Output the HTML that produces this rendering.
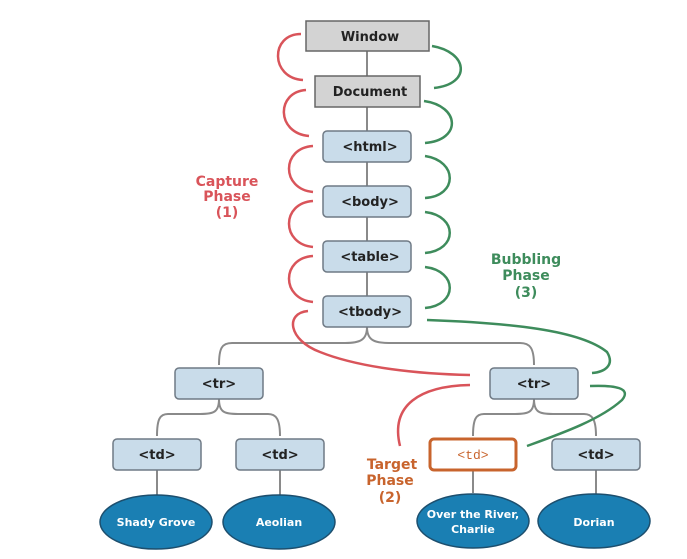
<!DOCTYPE html>
<html><head><meta charset="utf-8"><style>
html,body{margin:0;padding:0;background:#fff;}
svg{display:block;}
text{font-family:"DejaVu Sans","Liberation Sans",sans-serif;font-weight:bold;}
</style></head><body>
<svg width="687" height="559" viewBox="0 0 687 559" xmlns="http://www.w3.org/2000/svg">
<g stroke="#8a8a8a" stroke-width="2" fill="none">
<line x1="367" y1="51" x2="367" y2="76"/>
<line x1="367" y1="107" x2="367" y2="131"/>
<line x1="367" y1="162" x2="367" y2="186"/>
<line x1="367" y1="217" x2="367" y2="241"/>
<line x1="367" y1="272" x2="367" y2="296"/>
<path d="M367 327 C367 340 360 343 345 343 L232 343 C222 343 219 348 219 365"/>
<path d="M367 327 C367 340 374 343 389 343 L520 343 C530 343 534 348 534 365"/>
<path d="M219 399 C219 412 214 414 200 414 L168 414 C160 414 157 419 157 436"/>
<path d="M219 399 C219 412 224 414 238 414 L268 414 C276 414 280 419 280 436"/>
<path d="M534 399 C534 412 529 414 515 414 L484 414 C476 414 473 419 473 436"/>
<path d="M534 399 C534 412 539 414 553 414 L584 414 C592 414 596 419 596 436"/>
<line x1="157" y1="470" x2="157" y2="495"/>
<line x1="280" y1="470" x2="280" y2="495"/>
<line x1="473" y1="470" x2="473" y2="493"/>
<line x1="596" y1="470" x2="596" y2="495"/>
</g>
<g stroke="#d9545a" stroke-width="2.5" fill="none">
<path d="M301 34 C270 34 270 78 303 80"/>
<path d="M306 90 C276 92 276 133 309 136"/>
<path d="M313 146 C281 148 281 189 313 192"/>
<path d="M313 201 C281 203 281 244 313 247"/>
<path d="M313 256 C281 258 281 299 313 302"/>
<path d="M308 311 C285 313 288 340 320 352 C360 368 420 374 470 375"/>
<path d="M470 385 C420 386 390 405 400 446"/>
</g>
<g stroke="#3e8c5c" stroke-width="2.5" fill="none">
<path d="M432 46 C468 52 472 84 434 88"/>
<path d="M424 101 C460 106 462 140 425 143"/>
<path d="M425 156 C458 161 458 196 425 198"/>
<path d="M425 212 C458 216 458 250 425 253"/>
<path d="M425 267 C458 271 458 305 425 308"/>
<path d="M427 320 C510 323 580 330 607 352 C615 365 605 372 592 373"/>
<path d="M590 386 C615 385 632 388 622 400 C600 420 560 434 527 446"/>
</g>
<g stroke="#666" stroke-width="1.5">
<rect x="306" y="21" width="123" height="30" fill="#d3d3d3"/>
<rect x="315" y="76" width="105" height="31" fill="#d3d3d3"/>
</g>
<g stroke="#6f7a85" stroke-width="1.5" fill="#c9dcea">
<rect x="323" y="131" width="88" height="31" rx="4"/>
<rect x="323" y="186" width="88" height="31" rx="4"/>
<rect x="323" y="241" width="88" height="31" rx="4"/>
<rect x="323" y="296" width="88" height="31" rx="4"/>
<rect x="175" y="368" width="88" height="31" rx="4"/>
<rect x="490" y="368" width="88" height="31" rx="4"/>
<rect x="113" y="439" width="88" height="31" rx="4"/>
<rect x="236" y="439" width="88" height="31" rx="4"/>
<rect x="552" y="439" width="88" height="31" rx="4"/>
</g>
<rect x="430" y="439" width="86" height="31" rx="4" fill="#fff" stroke="#c8642d" stroke-width="3"/>
<g fill="#1a7fb3" stroke="#1d4f6e" stroke-width="1.5">
<ellipse cx="156" cy="522" rx="56" ry="27"/>
<ellipse cx="279" cy="522" rx="56" ry="27"/>
<ellipse cx="473" cy="521" rx="56" ry="27"/>
<ellipse cx="594" cy="521" rx="56" ry="27"/>
</g>
<g font-size="13" fill="#222" text-anchor="middle">
<text x="370" y="41">Window</text>
<text x="370" y="96">Document</text>
<text x="370" y="151">&lt;html&gt;</text>
<text x="370" y="206">&lt;body&gt;</text>
<text x="370" y="261">&lt;table&gt;</text>
<text x="370" y="316">&lt;tbody&gt;</text>
<text x="219" y="388">&lt;tr&gt;</text>
<text x="534" y="388">&lt;tr&gt;</text>
<text x="157" y="459">&lt;td&gt;</text>
<text x="280" y="459">&lt;td&gt;</text>
<text x="596" y="459">&lt;td&gt;</text>
</g>
<text x="473" y="459" text-anchor="middle" font-size="13" fill="#c8642d" style="font-family:'Liberation Mono',monospace;font-weight:normal">&lt;td&gt;</text>
<g font-size="11" fill="#fff" text-anchor="middle">
<text x="156" y="526">Shady Grove</text>
<text x="279" y="526">Aeolian</text>
<text x="473" y="518">Over the River,</text>
<text x="473" y="533">Charlie</text>
<text x="594" y="526">Dorian</text>
</g>
<g font-size="14" fill="#d9545a" text-anchor="middle">
<text x="227" y="186">Capture</text>
<text x="227" y="201">Phase</text>
<text x="227" y="217">(1)</text>
</g>
<g font-size="14" fill="#3e8c5c" text-anchor="middle">
<text x="526" y="264">Bubbling</text>
<text x="526" y="280">Phase</text>
<text x="526" y="297">(3)</text>
</g>
<g font-size="14" fill="#c8642d" text-anchor="middle">
<text x="392" y="469">Target</text>
<text x="390" y="485">Phase</text>
<text x="390" y="502">(2)</text>
</g>
</svg>
</body></html>
